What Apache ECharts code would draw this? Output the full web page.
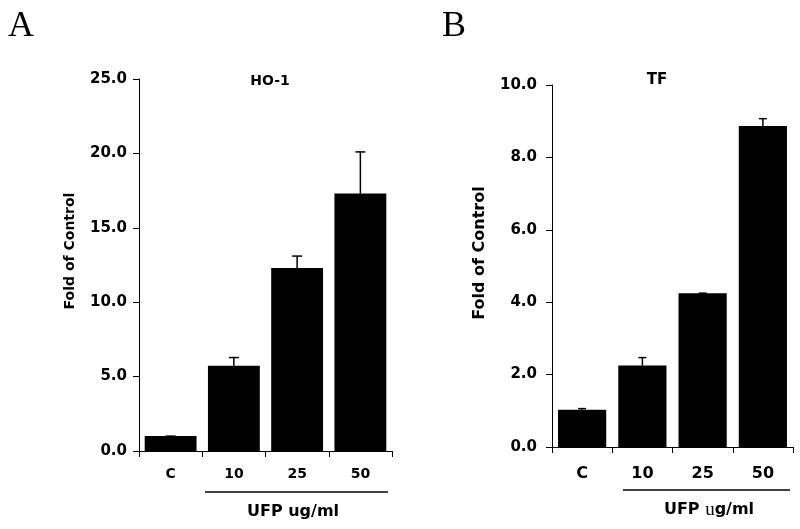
<!DOCTYPE html>
<html>
<head>
<meta charset="utf-8">
<script src="https://cdn.jsdelivr.net/npm/echarts@6/dist/echarts.min.js"></script>
<style>
  html, body { margin: 0; padding: 0; background: #fff; }
  #chart { width: 800px; height: 529px; }
</style>
</head>
<body>
<div id="chart"></div>
<script>
// data
const categories = ['C', '10', '25', '50'];
const hoValues = [1.0, 5.73, 12.3, 17.3];
const hoErrors = [0, 0.55, 0.8, 2.8];
const tfValues = [1.03, 2.25, 4.25, 8.87];
const tfErrors = [0.03, 0.22, 0, 0.2];
const hoAxis = { min: 0, max: 25, interval: 5 };
const tfAxis = { min: 0, max: 10, interval: 2 };

const sans = 'DejaVu Sans';
const serif = 'Liberation Serif';

function errorBarItem(capHalf) {
  return function (params, api) {
    const idx = api.value(0);
    const top = api.coord([idx, api.value(1) + api.value(2)]);
    const base = api.coord([idx, api.value(1)]);
    const style = { stroke: '#000', lineWidth: 1.5 };
    return {
      type: 'group',
      children: [
        { type: 'line', shape: { x1: base[0], y1: base[1], x2: top[0], y2: top[1] }, style: style },
        { type: 'line', shape: { x1: top[0] - capHalf, y1: top[1], x2: top[0] + capHalf, y2: top[1] }, style: style }
      ]
    };
  };
}

function xAxisFor(gridIndex, fontSize, margin) {
  return {
    type: 'category',
    gridIndex: gridIndex,
    data: categories,
    axisLine: { lineStyle: { color: '#000', width: 1 } },
    axisTick: { show: true, length: 6, lineStyle: { color: '#000' } },
    axisLabel: { color: '#000', fontFamily: sans, fontWeight: 'bold', fontSize: fontSize, margin: margin }
  };
}

function yAxisFor(gridIndex, range, fontSize, margin, nameSize, nameGap, shift) {
  return {
    type: 'value',
    gridIndex: gridIndex,
    min: range.min,
    max: range.max,
    interval: range.interval,
    name: 'Fold of Control',
    nameLocation: 'middle',
    nameGap: nameGap,
    nameTextStyle: { color: '#000', fontFamily: sans, fontWeight: 'bold', fontSize: nameSize, padding: [0, 0, 0, shift] },
    splitLine: { show: false },
    axisLine: { show: true, lineStyle: { color: '#000', width: 1 } },
    axisTick: { show: true, length: 6, lineStyle: { color: '#000' } },
    axisLabel: {
      color: '#000', fontFamily: sans, fontWeight: 'bold', fontSize: fontSize, margin: margin,
      formatter: v => v.toFixed(1)
    }
  };
}

function label(text, x, y, size, font, weight) {
  return {
    type: 'text', x: x, y: y,
    style: { text: text, fill: '#000', font: (weight || 'normal') + ' ' + size + 'px "' + font + '"', textAlign: 'center', textVerticalAlign: 'middle' }
  };
}

const chart = echarts.init(document.getElementById('chart'));
chart.setOption({
  animation: false,
  backgroundColor: '#fff',
  grid: [
    { left: 139, top: 79, width: 253, height: 372 },
    { left: 552, top: 85, width: 241, height: 362 }
  ],
  xAxis: [xAxisFor(0, 14, 16), xAxisFor(1, 16, 19)],
  yAxis: [yAxisFor(0, hoAxis, 15, 12, 14, 62, 28), yAxisFor(1, tfAxis, 15, 15, 16, 64, 26)],
  series: [
    {
      type: 'bar', xAxisIndex: 0, yAxisIndex: 0, data: hoValues,
      barCategoryGap: '18%', itemStyle: { color: '#000' }
    },
    {
      type: 'custom', xAxisIndex: 0, yAxisIndex: 0, z: 3,
      renderItem: errorBarItem(5),
      data: hoValues.map((v, i) => [i, v, hoErrors[i]])
    },
    {
      type: 'bar', xAxisIndex: 1, yAxisIndex: 1, data: tfValues,
      barCategoryGap: '20%', itemStyle: { color: '#000' }
    },
    {
      type: 'custom', xAxisIndex: 1, yAxisIndex: 1, z: 3,
      renderItem: errorBarItem(4),
      data: tfValues.map((v, i) => [i, v, tfErrors[i]])
    }
  ],
  graphic: [
    label('A', 21, 27, 36, serif),
    label('B', 454, 27, 36, serif),
    label('HO-1', 270, 81, 14, sans, 'bold'),
    label('TF', 657, 80, 15, sans, 'bold'),
    { type: 'line', shape: { x1: 205, y1: 492, x2: 388, y2: 492 }, style: { stroke: '#000', lineWidth: 1.5 } },
    { type: 'line', shape: { x1: 623, y1: 490, x2: 790, y2: 490 }, style: { stroke: '#000', lineWidth: 1.5 } },
    label('UFP ug/ml', 293, 512, 16, sans, 'bold'),
    {
      type: 'text', x: 709, y: 510,
      style: {
        text: '{a|UFP }{b|u}{a|g/ml}', textAlign: 'center', textVerticalAlign: 'middle',
        rich: {
          a: { fill: '#000', fontFamily: sans, fontWeight: 'bold', fontSize: 16 },
          b: { fill: '#000', fontFamily: serif, fontSize: 19 }
        }
      }
    }
  ]
});
</script>
</body>
</html>
